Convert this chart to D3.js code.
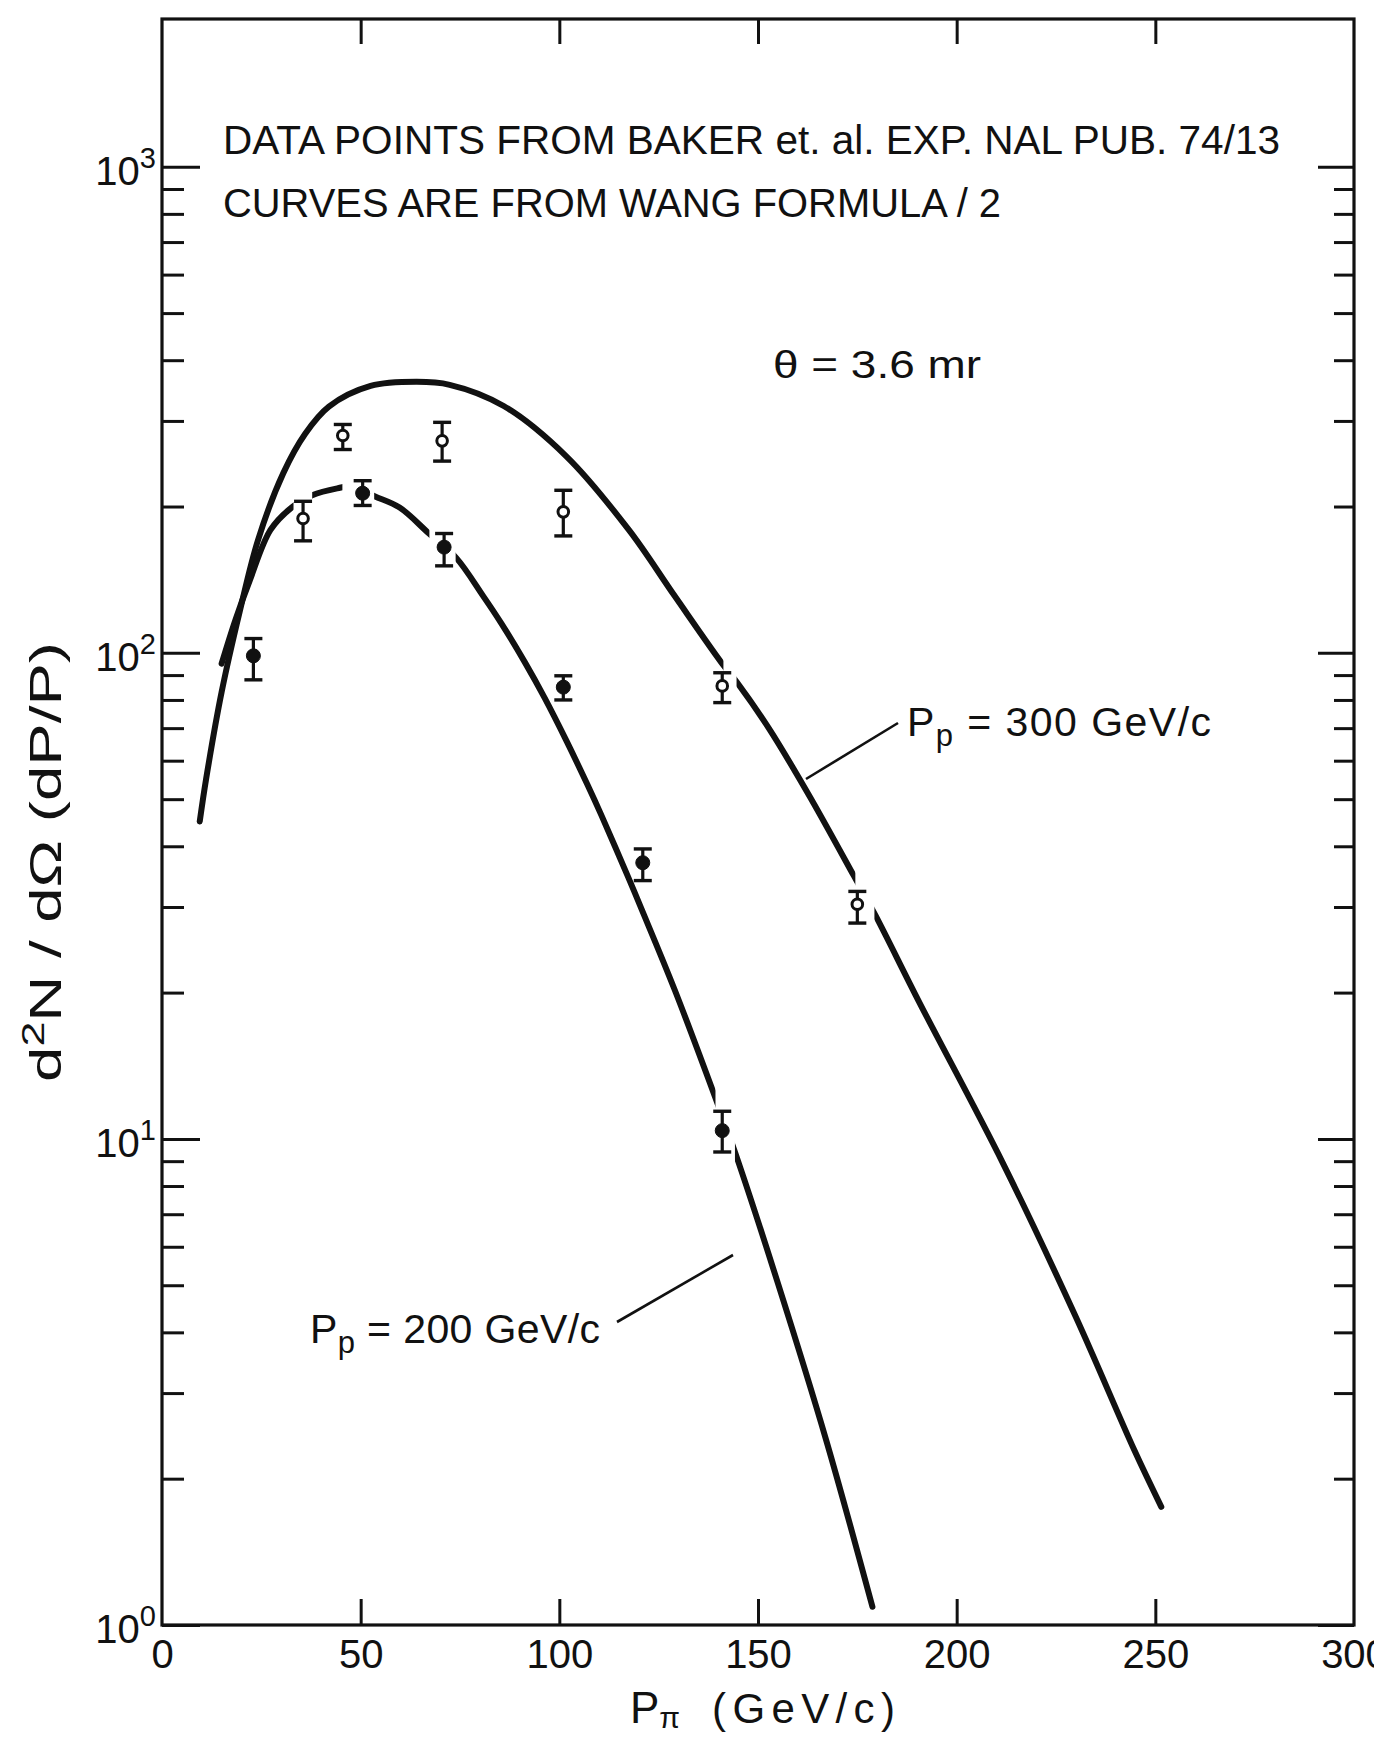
<!DOCTYPE html>
<html>
<head>
<meta charset="utf-8">
<script src="https://cdn.jsdelivr.net/npm/d3@7"></script>
<style>
body { margin: 0; background: #fff; }
svg text { font-family: "Liberation Sans", Arial, sans-serif; fill: #111; }
</style>
</head>
<body>
<svg id="chart" width="1374" height="1737"></svg>
<script>
// axis ticks
const xTicks = [0, 50, 100, 150, 200, 250, 300];
const xInnerTicks = [50, 100, 150, 200, 250];
const yDecades = [1, 10, 100, 1000];
const yDecadeExp = ["0", "1", "2", "3"];

// open circles: Pp = 300 GeV/c
const openX = [35.5, 45.5, 70.5, 101, 141, 175];
const openY = [189, 280, 273, 195, 85.5, 30.4];
const openLo = [170, 262, 248, 174, 79, 27.8];
const openHi = [205, 295, 298, 216, 91, 32.3];

// filled circles: Pp = 200 GeV/c
const filledX = [23, 50.5, 71, 101, 121, 141];
const filledY = [98.6, 213, 165, 85, 37, 10.4];
const filledLo = [88, 201, 151, 80, 34, 9.4];
const filledHi = [107, 226, 176, 89.7, 39.5, 11.4];

// curves
const curve300X = [9.5, 11.1, 15, 19.5, 24.2, 30.5, 36, 42, 52.5, 64, 72.4, 86, 101.7, 117.5, 129, 141, 144.7, 152.7, 162.8, 174.1, 179.6, 190.6, 211.6, 230, 244.7, 251.5];
const curve300Y = [45, 55, 83, 121, 171, 234, 282, 321, 354, 361, 356, 322, 254, 179, 131, 95, 87, 70, 51, 34.8, 28.8, 19.1, 8.93, 4.3, 2.29, 1.75];
const curve200X = [15, 18.5, 22.1, 27.3, 32.6, 37.8, 44.1, 48, 53.5, 59.8, 67.2, 74, 80.8, 85.4, 91.3, 96.3, 101.8, 107, 110.6, 117.3, 120.7, 129.1, 139.2, 144.3, 155, 167.1, 178.8];
const curve200Y = [95, 117, 141, 179, 199, 211, 218, 220, 210, 199, 176, 157, 131, 115, 95.7, 80.8, 65.9, 53.7, 46.3, 34.6, 29.7, 20.2, 12.2, 9.35, 5.05, 2.41, 1.09];

// breaks in the drawn curves where they pass the data points
const gaps300 = [[141.3, 144.6], [174.5, 179.3]];
const gaps200 = [[33.1, 37.8], [45.4, 53.4], [67.3, 73.9], [139.3, 144.2]];

const svg = d3.select("#chart");
const x = d3.scaleLinear().domain([0, 300]).range([162, 1354]);
const y = d3.scaleLog().domain([1, Math.pow(10, 3.304)]).range([1625, 19]);
const ink = "#111";

let minorTicks = [];
[1, 10, 100].forEach(d => { for (let k = 2; k <= 9; k++) minorTicks.push(d * k); });

function styleAxis(g) {
    g.select(".domain").remove();
    g.selectAll("line").attr("stroke", ink).attr("stroke-width", 3);
}

// frame
svg.append("rect")
    .attr("x", x(0)).attr("y", y.range()[1])
    .attr("width", x(300) - x(0)).attr("height", y.range()[0] - y.range()[1])
    .attr("fill", "none").attr("stroke", ink).attr("stroke-width", 3.2);

// y ticks, left and right, pointing inward
svg.append("g").attr("transform", `translate(${x(0)},0)`)
    .call(d3.axisLeft(y).tickValues(yDecades).tickSize(-38).tickFormat("")).call(styleAxis);
svg.append("g").attr("transform", `translate(${x(0)},0)`)
    .call(d3.axisLeft(y).tickValues(minorTicks).tickSize(-22).tickFormat("")).call(styleAxis);
svg.append("g").attr("transform", `translate(${x(300)},0)`)
    .call(d3.axisRight(y).tickValues(yDecades).tickSize(-36).tickFormat("")).call(styleAxis);
svg.append("g").attr("transform", `translate(${x(300)},0)`)
    .call(d3.axisRight(y).tickValues(minorTicks).tickSize(-20).tickFormat("")).call(styleAxis);

// x ticks, top and bottom
svg.append("g").attr("transform", `translate(0,${y.range()[1]})`)
    .call(d3.axisTop(x).tickValues(xInnerTicks).tickSize(-25).tickFormat("")).call(styleAxis);
svg.append("g").attr("transform", `translate(0,${y.range()[0]})`)
    .call(d3.axisBottom(x).tickValues(xInnerTicks).tickSize(-26).tickFormat("")).call(styleAxis);

// x tick labels
svg.append("g").attr("transform", `translate(0,${y.range()[0]})`)
    .call(d3.axisBottom(x).tickValues(xTicks).tickSize(0).tickPadding(15).tickFormat(d3.format("d")))
    .call(g => g.select(".domain").remove())
    .call(g => g.selectAll("text")
        .attr("font-family", "Liberation Sans, Arial, sans-serif")
        .attr("font-size", 40).attr("fill", ink));

// y tick labels 10^n
yDecades.forEach((d, i) => {
    let t = svg.append("text")
        .attr("x", 156).attr("y", y(d) + 18)
        .attr("text-anchor", "end").attr("font-size", 40);
    t.append("tspan").text("10");
    t.append("tspan").attr("font-size", 29).attr("dy", -17).text(yDecadeExp[i]);
});

// axis titles
let yTitle = svg.append("text")
    .attr("transform", "translate(61,862) rotate(-90)")
    .attr("text-anchor", "middle").attr("font-size", 44)
    .attr("textLength", 440).attr("lengthAdjust", "spacingAndGlyphs");
yTitle.append("tspan").text("d");
yTitle.append("tspan").attr("font-size", 31).attr("dy", -17).text("2");
yTitle.append("tspan").attr("dy", 17).text("N / dΩ (dP/P)");

let xTitle = svg.append("text").attr("x", 630).attr("y", 1723).attr("font-size", 44);
xTitle.append("tspan").text("P");
xTitle.append("tspan").attr("font-size", 30).attr("dy", 5).text("π");
svg.append("text").attr("x", 712).attr("y", 1723).attr("font-size", 42)
    .attr("textLength", 183).attr("lengthAdjust", "spacing").text("(GeV/c)");

// notes in the plot
svg.append("text").attr("x", 223).attr("y", 154).attr("font-size", 40)
    .attr("textLength", 1057).attr("lengthAdjust", "spacingAndGlyphs")
    .text("DATA POINTS FROM BAKER et. al. EXP. NAL PUB. 74/13");
svg.append("text").attr("x", 223).attr("y", 217).attr("font-size", 40)
    .attr("textLength", 778).attr("lengthAdjust", "spacingAndGlyphs")
    .text("CURVES ARE FROM  WANG FORMULA / 2");
svg.append("text").attr("x", 773).attr("y", 378).attr("font-size", 38)
    .attr("textLength", 208).attr("lengthAdjust", "spacingAndGlyphs")
    .text("θ = 3.6 mr");

// curves
const line = d3.line().x(d => x(d[0])).y(d => y(d[1])).curve(d3.curveCatmullRom.alpha(0.5));

function drawCurve(xs, ys, gaps, id) {
    let pts = xs.map((v, i) => [v, ys[i]]);
    let edges = [0];
    gaps.forEach(g => { edges.push(g[0]); edges.push(g[1]); });
    edges.push(300);
    let clip = svg.append("clipPath").attr("id", id);
    for (let i = 0; i < edges.length; i += 2) {
        clip.append("rect")
            .attr("x", x(edges[i]) - (i === 0 ? 20 : 0)).attr("y", 0)
            .attr("width", x(edges[i + 1]) - x(edges[i]) + (i === 0 ? 20 : 0))
            .attr("height", 1737);
    }
    svg.append("path")
        .attr("d", line(pts))
        .attr("fill", "none").attr("stroke", ink)
        .attr("stroke-width", 6).attr("stroke-linecap", "round")
        .attr("clip-path", `url(#${id})`);
}
drawCurve(curve300X, curve300Y, gaps300, "clip300");
drawCurve(curve200X, curve200Y, gaps200, "clip200");

// data points with error bars
function drawPoints(xs, ys, lo, hi, open) {
    let g = svg.append("g");
    xs.forEach((v, i) => {
        g.append("line")
            .attr("x1", x(v)).attr("x2", x(v))
            .attr("y1", y(lo[i])).attr("y2", y(hi[i]))
            .attr("stroke", ink).attr("stroke-width", 3.2);
        [lo[i], hi[i]].forEach(e => {
            g.append("line")
                .attr("x1", x(v) - 9).attr("x2", x(v) + 9)
                .attr("y1", y(e)).attr("y2", y(e))
                .attr("stroke", ink).attr("stroke-width", 3.4);
        });
        g.append("circle")
            .attr("cx", x(v)).attr("cy", y(ys[i]))
            .attr("r", open ? 5.3 : 7)
            .attr("fill", open ? "#fff" : ink)
            .attr("stroke", ink).attr("stroke-width", open ? 3 : 1);
    });
}
drawPoints(openX, openY, openLo, openHi, true);
drawPoints(filledX, filledY, filledLo, filledHi, false);

// curve labels with leader lines
function curveLabel(tx, ty, len, energy, lx1, ly1, lx2, ly2) {
    svg.append("line")
        .attr("x1", lx1).attr("y1", ly1).attr("x2", lx2).attr("y2", ly2)
        .attr("stroke", ink).attr("stroke-width", 2.6);
    let t = svg.append("text").attr("x", tx).attr("y", ty).attr("font-size", 41)
        .attr("textLength", len).attr("lengthAdjust", "spacing");
    t.append("tspan").text("P");
    t.append("tspan").attr("font-size", 31).attr("dy", 10).text("p");
    t.append("tspan").attr("dy", -10).text(" = " + energy + "  GeV/c");
}
curveLabel(907, 736, 304, 300, 806, 779, 898, 723);
curveLabel(310, 1343, 290, 200, 617, 1322, 733, 1255);
</script>
</body>
</html>
